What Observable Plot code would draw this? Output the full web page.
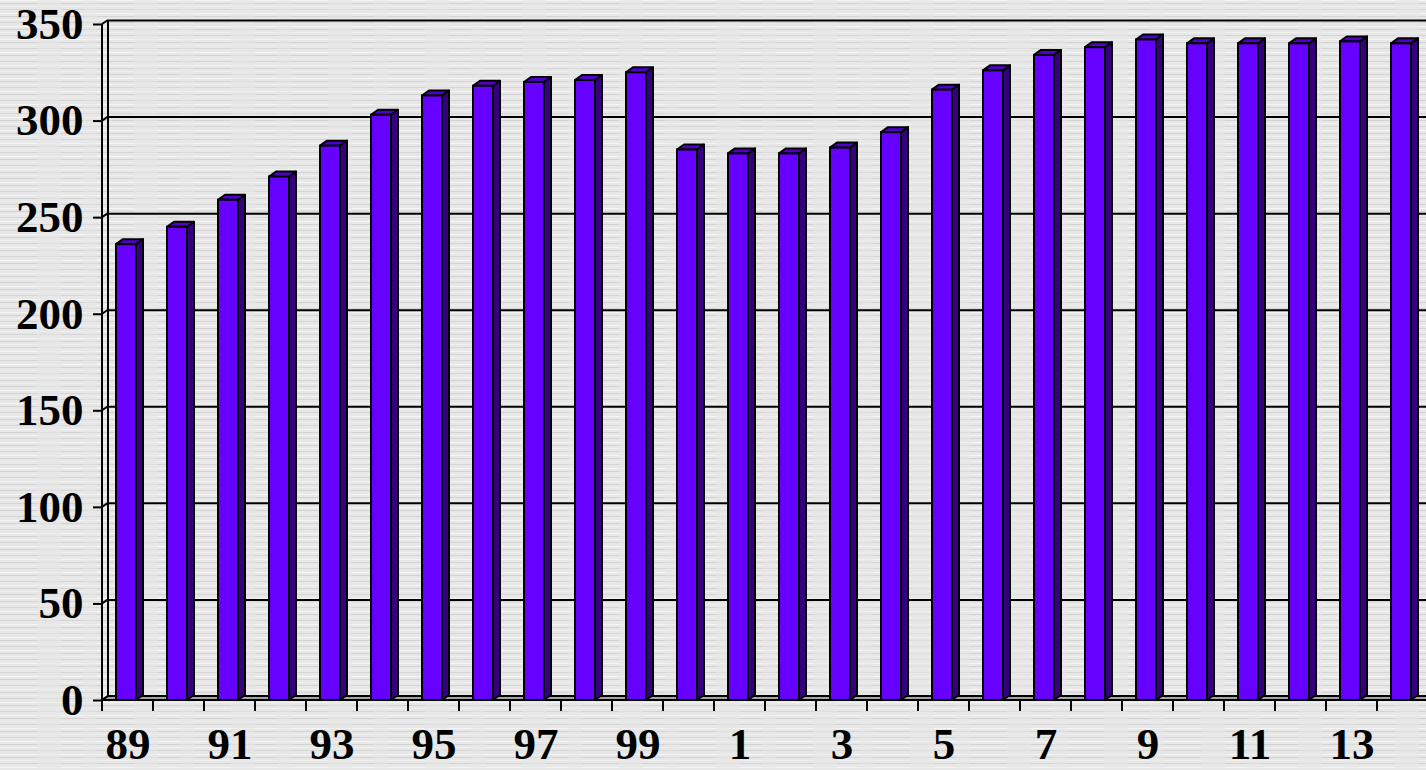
<!DOCTYPE html>
<html>
<head>
<meta charset="utf-8">
<script src="https://cdn.jsdelivr.net/npm/d3@7"></script>
<script src="https://cdn.jsdelivr.net/npm/@observablehq/plot@0.6"></script>
<style>
html, body { margin: 0; padding: 0; width: 1426px; height: 770px; overflow: hidden; }
body {
  background-color: #e7e7e7;
  background-image:
    repeating-linear-gradient(90deg, rgba(231,231,231,0.0) 0 37px, rgba(231,231,231,0.55) 37px 61px, rgba(231,231,231,0) 61px 83px, rgba(231,231,231,0.45) 83px 97px),
    repeating-linear-gradient(180deg, rgba(255,255,255,0.6) 0 1px, transparent 1px 3px, rgba(110,110,110,0.16) 3px 4px, transparent 4px 6px, rgba(255,255,255,0.35) 6px 7px, transparent 7px 9px, rgba(90,90,90,0.13) 9px 10px, transparent 10px 13px);
}
#chart svg { display: block; }
</style>
</head>
<body>
<div id="chart"></div>
<script>
// ---- data ----
const years = [1989, 1990, 1991, 1992, 1993, 1994, 1995, 1996, 1997, 1998, 1999, 2000, 2001,
               2002, 2003, 2004, 2005, 2006, 2007, 2008, 2009, 2010, 2011, 2012, 2013, 2014];
const values = [236, 245, 259, 271, 287, 303, 313, 318, 320, 321, 325, 285, 283,
                283, 286, 294, 316, 326, 334, 338, 342, 340, 340, 340, 341, 340];
const yTicks = [0, 50, 100, 150, 200, 250, 300, 350];
const xTickYears = [1989, 1991, 1993, 1995, 1997, 1999, 2001, 2003, 2005, 2007, 2009, 2011, 2013];
const xTickLabels = ["89", "91", "93", "95", "97", "99", "1", "3", "5", "7", "9", "11", "13"];

const data = years.map((year, i) => ({year, value: values[i]}));

// ---- style ----
const FRONT = "#6600ff", SIDE = "#34007f", TOP = "#5200cc", FLOOR = "#a4a4a4";
const BAR_DX = 7, BAR_DY = 5;    // bar depth
const WALL_DX = 6, WALL_DY = 4;  // wall depth
const INSET_L = 14, INSET_R = 17;
const SW = 2;
const FONT = 45;

// back wall, floor and gridline diagonals (drawn through scales)
function backdrop(index, scales, vals, dims) {
  const x = scales.x, y = scales.y;
  const step = x(years[1]) - x(years[0]);
  const x0 = x(years[0]);
  const x1 = x(years[years.length - 1]) + step;
  const y0 = y(0), yTop = y(yTicks[yTicks.length - 1]);
  const g = d3.create("svg:g").attr("fill", "none").attr("stroke", "black").attr("stroke-width", SW);
  g.append("path")
    .attr("d", `M${x0},${y0}L${x1},${y0}L${x1 + WALL_DX},${y0 - WALL_DY}L${x0 + WALL_DX},${y0 - WALL_DY}Z`)
    .attr("fill", FLOOR);
  g.append("line").attr("x1", x0 + WALL_DX).attr("x2", x0 + WALL_DX)
    .attr("y1", yTop - WALL_DY).attr("y2", y0 - WALL_DY);
  for (const t of yTicks) {
    g.append("line").attr("x1", x0).attr("y1", y(t)).attr("x2", x0 + WALL_DX).attr("y2", y(t) - WALL_DY);
  }
  return g.node();
}

function foreground(index, scales, vals, dims) {
  const x = scales.x, y = scales.y;
  const step = x(years[1]) - x(years[0]);
  const x0 = x(years[0]);
  const y0 = y(0), yTop = y(yTicks[yTicks.length - 1]);
  const g = d3.create("svg:g").attr("fill", "none").attr("stroke", "black").attr("stroke-width", SW);
  g.append("line").attr("x1", x0).attr("x2", x0).attr("y1", yTop).attr("y2", y0 + 1);
  for (let i = 0; i <= years.length; i++) {
    const xx = x0 + i * step;
    g.append("line").attr("x1", xx).attr("x2", xx).attr("y1", y0).attr("y2", y0 + 11);
  }
  return g.node();
}

function barDepth(index, scales, vals, dims) {
  const x = scales.x, y = scales.y;
  const step = x(years[1]) - x(years[0]);
  const y0 = y(0);
  const g = d3.create("svg:g").attr("stroke", "black").attr("stroke-width", SW).attr("stroke-linejoin", "round");
  for (const d of data) {
    const xl = x(d.year) + INSET_L;
    const xr = x(d.year) + step - INSET_R;
    const yt = y(d.value);
    g.append("path")
      .attr("d", `M${xr},${yt}L${xr + BAR_DX},${yt - BAR_DY}L${xr + BAR_DX},${y0 - BAR_DY}L${xr},${y0}Z`)
      .attr("fill", SIDE);
    g.append("path")
      .attr("d", `M${xl},${yt}L${xl + BAR_DX},${yt - BAR_DY}L${xr + BAR_DX},${yt - BAR_DY}L${xr},${yt}Z`)
      .attr("fill", TOP);
  }
  return g.node();
}

const chart = Plot.plot({
  width: 1426,
  height: 770,
  marginLeft: 102,
  marginRight: 0,
  marginTop: 24,
  marginBottom: 70,
  style: {background: "transparent", fontFamily: "'Liberation Serif', 'Times New Roman', serif", fontSize: FONT + "px", fontWeight: "bold", color: "black"},
  x: {type: "band", domain: years, range: [102, 1428], padding: 0},
  y: {domain: [0, 350], range: [700, 24]},
  marks: [
    backdrop,
    Plot.ruleY(yTicks.filter(t => t > 0), {y: d => d, dx: WALL_DX, dy: -WALL_DY, stroke: "black", strokeWidth: SW}),
    barDepth,
    Plot.barY(data, {x: "year", y: "value", insetLeft: INSET_L, insetRight: INSET_R, fill: FRONT, stroke: "black", strokeWidth: SW}),
    foreground,
    Plot.axisY({ticks: yTicks, tickSize: 9, tickPadding: 10, tickFormat: d => String(d), fontSize: FONT, fontWeight: "bold", strokeWidth: SW, label: null}),
    Plot.axisX({ticks: xTickYears, tickSize: 0, tickPadding: 27, tickFormat: d => xTickLabels[xTickYears.indexOf(d)], fontSize: FONT, fontWeight: "bold", label: null})
  ]
});
document.getElementById("chart").appendChild(chart);
</script>
</body>
</html>
